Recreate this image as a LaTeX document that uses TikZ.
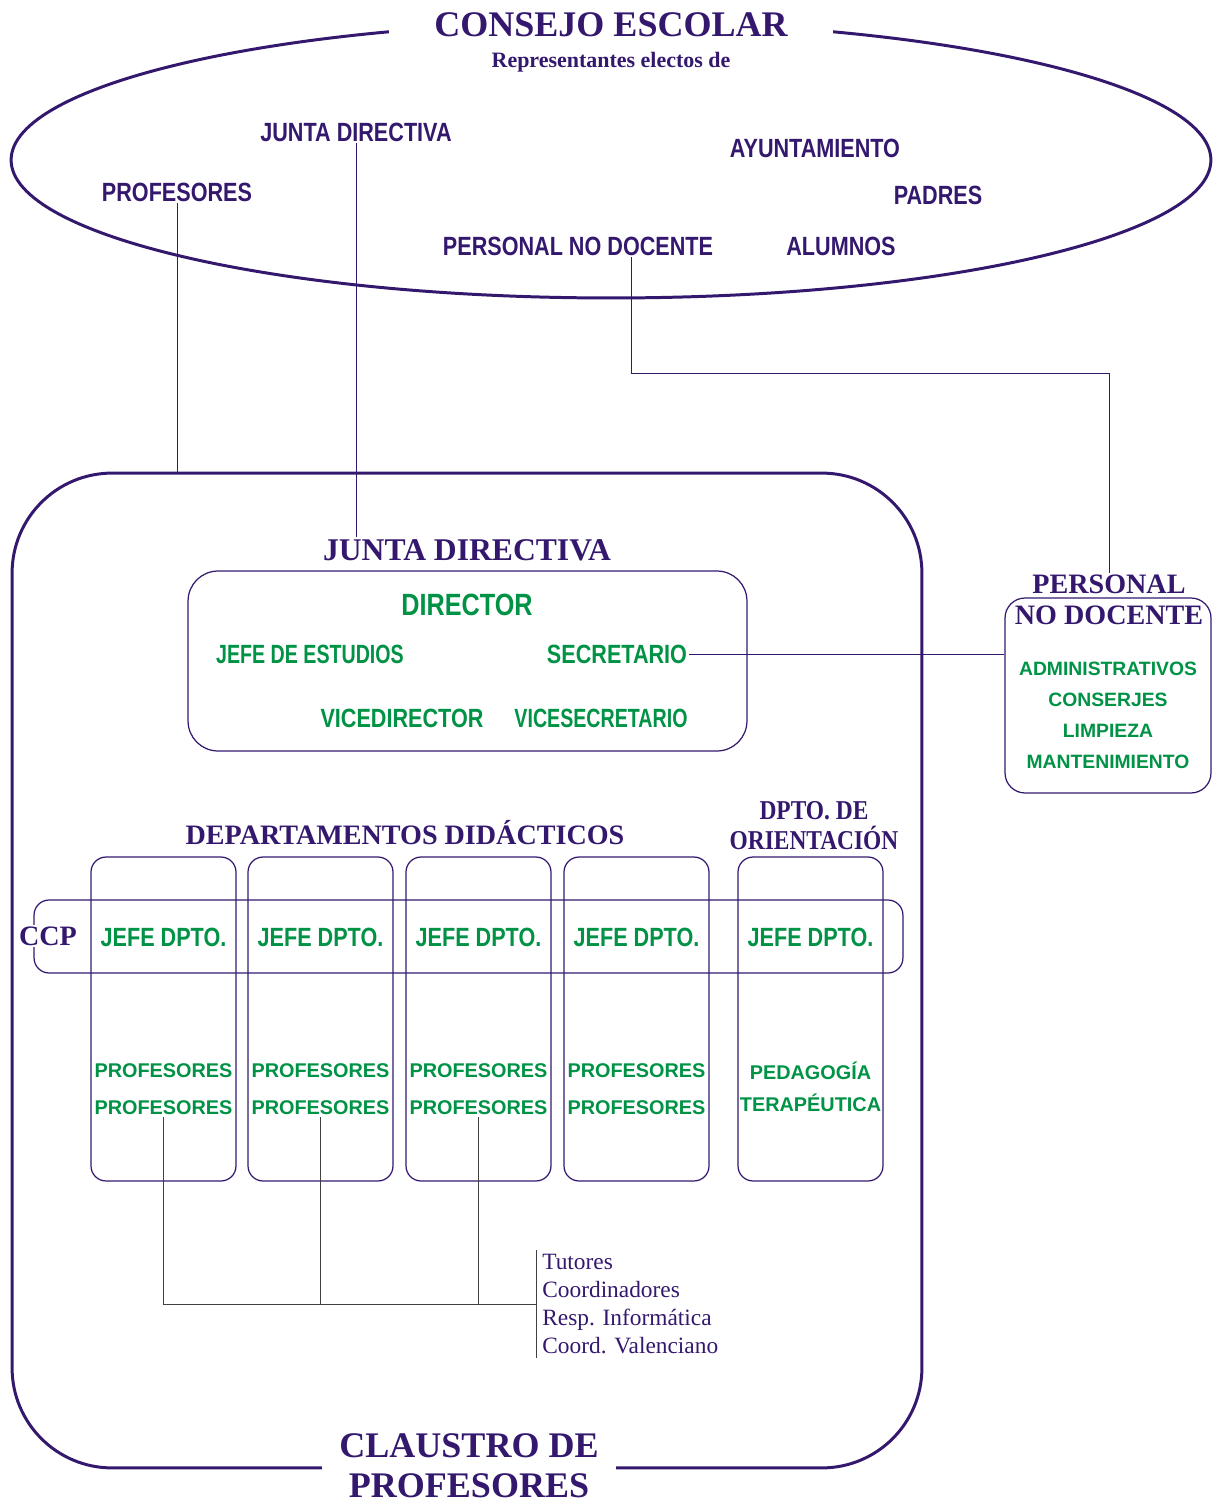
\documentclass[tikz,border=0pt]{standalone}
\usepackage{fontspec}
\setmainfont{Liberation Serif}
\setsansfont{Liberation Sans}
\newfontfamily\narrowsf[FakeStretch=0.82]{Liberation Sans}
\newfontfamily\tightsf[FakeStretch=0.745]{Liberation Sans}
\newfontfamily\narrowrm[FakeStretch=0.86]{Liberation Serif}
\usepackage{tikz}
\usetikzlibrary{shapes.geometric,positioning}
\definecolor{purp}{RGB}{52,24,110}
\definecolor{verde}{RGB}{0,146,69}
\tikzstyle{titlesty}=[font=\bfseries\fontsize{18}{20}\selectfont, text=purp, inner sep=1pt]
\tikzstyle{ovalsty}=[font=\narrowsf\bfseries\fontsize{15}{17}\selectfont, text=purp, inner sep=1pt]
\tikzstyle{cargosty}=[font=\narrowsf\bfseries\fontsize{15}{17}\selectfont, text=verde, inner sep=1pt]
\tikzstyle{tightsty}=[cargosty, font=\tightsf\bfseries\fontsize{15}{17}\selectfont]
\tikzstyle{itemsty}=[font=\sffamily\bfseries\fontsize{11.3}{13}\selectfont, text=verde, inner sep=1pt]
\tikzstyle{boxsty}=[draw=purp, line width=0.7pt, rounded corners=0.3cm, inner sep=0pt]
\tikzstyle{bigedge}=[draw=purp, line width=1.7pt]
\tikzstyle{linkedge}=[draw=purp, line width=0.5pt]
\tikzstyle{grayedge}=[draw=black!75, line width=0.5pt]

\begin{document}
\begin{tikzpicture}[x=0.02cm, y=-0.02cm]
	\useasboundingbox (0,0) rectangle (1214,1503);
	% consejo escolar
	\node[bigedge, ellipse, minimum width=24cm, minimum height=5.52cm] (consejo) at (611,160) {};
	\node[titlesty, fill=white, inner xsep=0.9cm, inner ysep=3pt, font=\bfseries\fontsize{20.5}{22}\selectfont] (ce) at (611,25) {CONSEJO ESCOLAR};
	\node[titlesty, font=\bfseries\fontsize{12.5}{14}\selectfont] (repr) at (611,62) {Representantes electos de};
	\node[ovalsty] (jd) at (356,132) {JUNTA DIRECTIVA};
	\node[ovalsty] (prof) at (177,192) {PROFESORES};
	\node[ovalsty] (ayto) at (815,148) {AYUNTAMIENTO};
	\node[ovalsty] (padres) at (938,195) {PADRES};
	\node[ovalsty] (pnd) at (578,246) {PERSONAL NO DOCENTE};
	\node[ovalsty] (alum) at (841,246) {ALUMNOS};

	% claustro
	\node[bigedge, rounded corners=2cm, minimum width=18.2cm, minimum height=19.9cm] (claus) at (467,970.5) {};
	\node[titlesty, fill=white, align=center, inner xsep=10pt, font=\bfseries\fontsize{20.5}{22.7}\selectfont] (clt) at (469,1466) {CLAUSTRO DE\\PROFESORES};

	% junta directiva
	\node[titlesty] (jdt) at (467,550) {JUNTA DIRECTIVA};
	\node[boxsty, rounded corners=0.6cm, minimum width=11.18cm, minimum height=3.6cm] (jbox) at (467.5,661) {};
	\node[cargosty, font=\narrowsf\bfseries\fontsize{17.5}{19}\selectfont] (dir) at (467,605) {DIRECTOR};
	\node[tightsty] (jefe) at (310,654) {JEFE DE ESTUDIOS};
	\node[cargosty] (secr) at (617,654) {SECRETARIO};
	\node[cargosty] (vdir) at (402,718) {VICEDIRECTOR};
	\node[tightsty] (vsec) at (601,718) {VICESECRETARIO};

	% personal no docente
	\node[boxsty, rounded corners=0.4cm, minimum width=4.12cm, minimum height=3.9cm] (pbox) at (1108,695.5) {};
	\node[titlesty, align=center, font=\bfseries\fontsize{16}{18}\selectfont] (pt) at (1109,600) {PERSONAL\\NO DOCENTE};
	\node[itemsty, align=center, font=\sffamily\bfseries\fontsize{11}{17.6}\selectfont] (pitems) at (1108,715) {ADMINISTRATIVOS\\CONSERJES\\LIMPIEZA\\MANTENIMIENTO};

	% departamentos
	\node[titlesty, font=\bfseries\fontsize{16}{17}\selectfont] (ddt) at (405,833) {DEPARTAMENTOS DIDÁCTICOS};
	\node[titlesty, align=center, font=\narrowrm\bfseries\fontsize{15.5}{17}\selectfont] (dot) at (814,826) {DPTO. DE\\ORIENTACIÓN};
	\foreach \i/\x in {1/163.5,2/320.5,3/478.5,4/636.5}{
		\node[boxsty, minimum width=2.9cm, minimum height=6.48cm] (d\i) at (\x,1019) {};
		\node[cargosty] (j\i) at (\x,937) {JEFE DPTO.};
		\node[itemsty] (pa\i) at (\x,1071) {PROFESORES};
		\node[itemsty] (pb\i) at (\x,1108) {PROFESORES};
	}
	\node[boxsty, minimum width=2.9cm, minimum height=6.48cm] (d5) at (810.5,1019) {};
	\node[cargosty] (j5) at (810.5,937) {JEFE DPTO.};
	\node[itemsty] (ped) at (810.5,1071) {PEDAGOGÍA};
	\node[itemsty] (ter) at (810.5,1103) {TERAPÉUTICA};

	% ccp
	\node[boxsty, minimum width=17.38cm, minimum height=1.46cm] (ccp) at (468.5,936.5) {};
	\node[titlesty, fill=white, font=\bfseries\fontsize{16}{18}\selectfont] (ccpt) at (48,936) {CCP};

	% cargos
	\node[font=\fontsize{13.3}{15.9}\selectfont, text=purp, align=left, anchor=west, inner xsep=3.4pt, inner ysep=2pt] (roles) at (536,1304) {Tutores\\Coordinadores\\Resp. Informática\\Coord. Valenciano};

	% enlaces
	\draw[linkedge] (prof.south) -- (prof.south |- claus.north);
	\draw[linkedge] (jd.south) -- (jd.south |- jdt.north);
	\draw[linkedge] ([xshift=1.06cm]pnd.south) -- ++(0,116) -| (pt.north);
	\draw[linkedge] (secr.east) -- (secr.east -| pbox.west);
	\draw[grayedge] (roles.north west) -- (roles.south west);
	\draw[grayedge] (pb1.south) |- (roles.west);
	\draw[grayedge] (pb2.south) -- (pb2.south |- roles.west);
	\draw[grayedge] (pb3.south) -- (pb3.south |- roles.west);
\end{tikzpicture}
\end{document}
